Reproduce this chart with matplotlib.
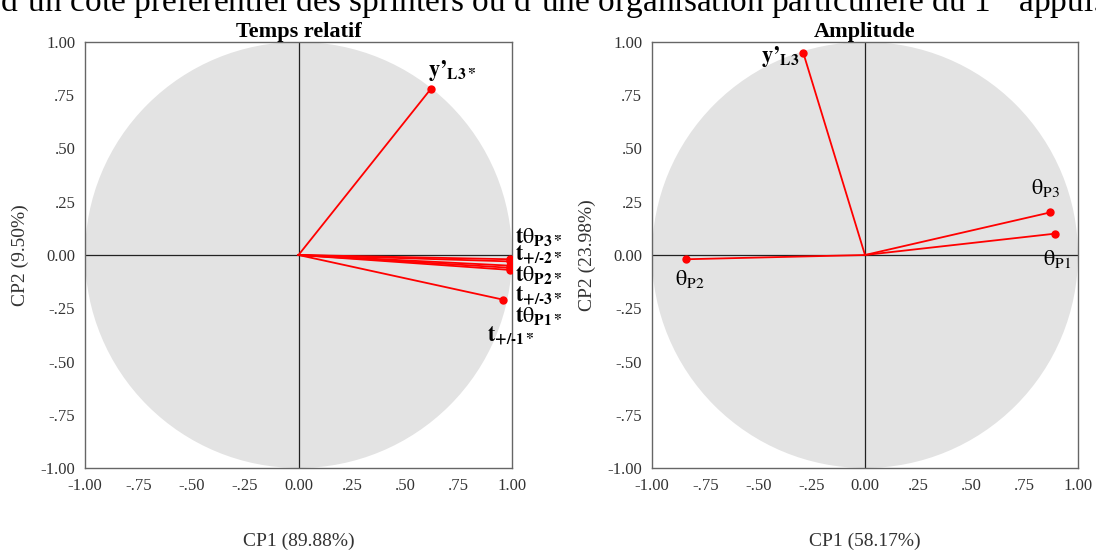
import matplotlib
matplotlib.use("Agg")
import matplotlib.pyplot as plt
import matplotlib.patches as mpatches

plt.rcParams.update({
    "font.family": "Liberation Serif",
    "mathtext.fontset": "stix",
    "font.size": 11,
})

# Temps relatif (left panel)
rel_names = ["$\\mathbf{y\u2019}_{\\mathbf{L3*}}$", r"$\mathbf{t\mathrm{\theta}}_{\mathbf{P3*}}$",
             "$\\mathbf{t}_{\\mathbf{+/\u20102*}}$", r"$\mathbf{t\mathrm{\theta}}_{\mathbf{P2*}}$",
             "$\\mathbf{t}_{\\mathbf{+/\u20103*}}$", r"$\mathbf{t\mathrm{\theta}}_{\mathbf{P1*}}$",
             "$\\mathbf{t}_{\\mathbf{+/\u20101*}}$"]
rel_x = [0.62, 0.99, 0.99, 0.99, 0.99, 0.99, 0.96]
rel_y = [0.78, -0.02, -0.03, -0.05, -0.06, -0.07, -0.21]

# Amplitude (right panel)
amp_names = ["$\\mathbf{y\u2019}_{\\mathbf{L3}}$", r"$\mathrm{\theta}_{\mathrm{P3}}$",
             r"$\mathrm{\theta}_{\mathrm{P1}}$", r"$\mathrm{\theta}_{\mathrm{P2}}$"]
amp_x = [-0.29, 0.87, 0.89, -0.84]
amp_y = [0.95, 0.20, 0.10, -0.02]

ticks = [-1.0, -0.75, -0.5, -0.25, 0.0, 0.25, 0.5, 0.75, 1.0]
tick_labels = ["-1.00", "-.75", "-.50", "-.25", "0.00", ".25", ".50", ".75", "1.00"]

# label placement (layout only): offset in points, horizontal alignment
rel_offsets = [(-2, 4, "left"), (4, 8, "left"), (4, -3, "left"), (4, -15, "left"),
               (4, -28, "left"), (4, -41, "left"), (-12, -34, "left")]
amp_offsets = [(-3, -12, "right"), (-14, 10, "left"), (-8, -26, "left"), (-8, -22, "left")]


def draw_panel(ax, names, xs, ys, offsets, title, xlabel, ylabel, fs):
    ax.add_patch(mpatches.Circle((0, 0), 1.0, facecolor="#e3e3e3", edgecolor="none", zorder=0))
    ax.axhline(0, color="#222222", lw=0.9, zorder=1)
    ax.axvline(0, color="#222222", lw=0.9, zorder=1)
    for name, x, y, (dx, dy, ha) in zip(names, xs, ys, offsets):
        ax.plot([0, x], [0, y], color="#ff0000", lw=1.3, zorder=3)
        ax.plot(x, y, "o", color="#ff0000", ms=5, zorder=4)
        ax.annotate(name, xy=(x, y), xytext=(dx, dy), textcoords="offset points",
                    fontsize=fs, ha=ha, va="bottom", annotation_clip=False)
    ax.set_xlim(-1, 1)
    ax.set_ylim(-1, 1)
    ax.set_xticks(ticks)
    ax.set_xticklabels(tick_labels)
    ax.set_yticks(ticks)
    ax.set_yticklabels(tick_labels)
    ax.tick_params(length=0, labelsize=12, pad=7, labelcolor="#333333")
    for sp in ax.spines.values():
        sp.set_color("#666666")
        sp.set_linewidth(1.0)
    ax.set_title(title, fontsize=16, fontweight="bold", pad=1)
    ax.set_xlabel(xlabel, fontsize=14, labelpad=28, color="#333333")
    ax.set_ylabel(ylabel, fontsize=14, labelpad=8, color="#333333")


fig = plt.figure(figsize=(10.96, 5.5), dpi=100)
ax1 = fig.add_axes([85 / 1096, 1 - 468 / 550, 427 / 1096, 426 / 550])
ax2 = fig.add_axes([652 / 1096, 1 - 468 / 550, 426 / 1096, 426 / 550])

draw_panel(ax1, rel_names, rel_x, rel_y, rel_offsets, "Temps relatif",
           "CP1 (89.88%)", "CP2 (9.50%)", 16)
draw_panel(ax2, amp_names, amp_x, amp_y, amp_offsets, "Amplitude",
           "CP1 (58.17%)", "CP2 (23.98%)", 16)

fig.text(0.0, 1 - 11 / 550,
         "d\u2019un c\u00f4t\u00e9 pr\u00e9f\u00e9rentiel des sprinters ou d\u2019une organisation particuli\u00e8re du 1$^{\\mathrm{er}}$ appui.",
         fontsize=24, va="baseline", ha="left")

fig.savefig("out.png", dpi=100)
